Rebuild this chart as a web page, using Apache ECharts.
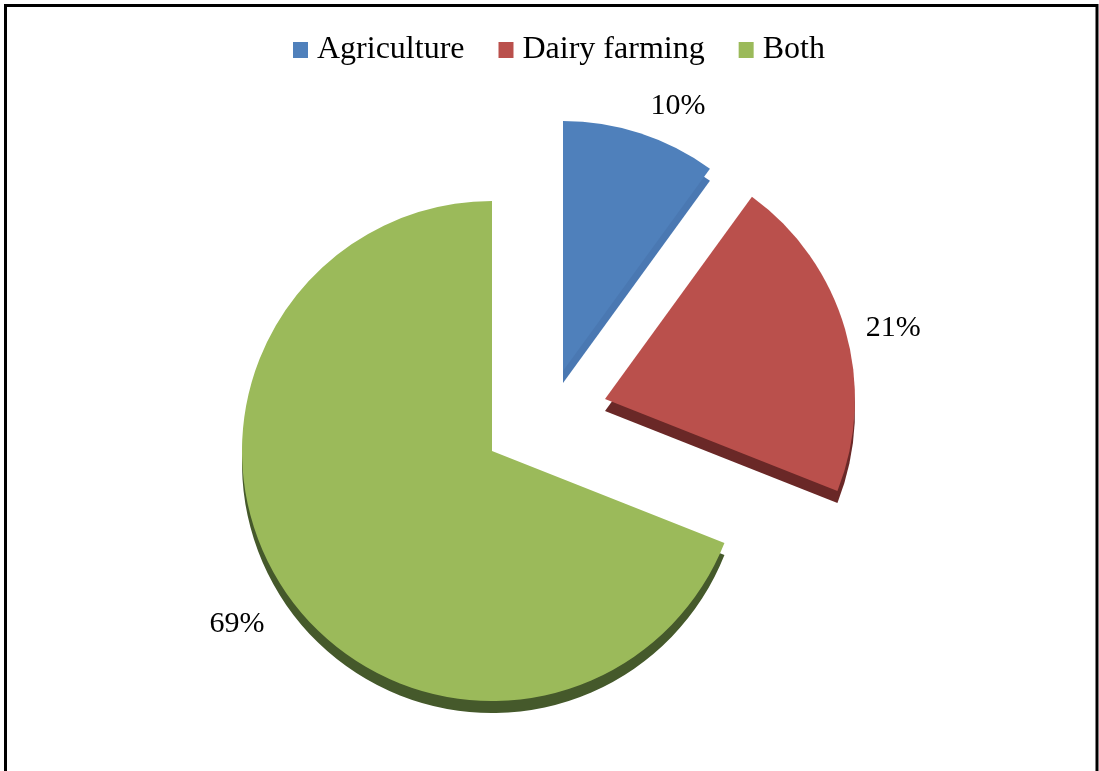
<!DOCTYPE html>
<html>
<head>
<meta charset="utf-8">
<title>Occupation share</title>
<script src="https://cdn.jsdelivr.net/npm/echarts@6/dist/echarts.min.js"></script>
<style>
  html, body { margin: 0; padding: 0; background: #ffffff; }
  #chart { width: 1099px; height: 771px; }
</style>
</head>
<body>
<div id="chart"></div>
<script>
// Occupation categories and their shares (%)
const categories = ['Agriculture', 'Dairy farming', 'Both'];
const values = [10, 21, 69];

// Face and side colours for each slice
const faceColors = ['#4F80BB', '#BA504C', '#9BBA5A'];
const sideColors = ['#4A78B2', '#6A2827', '#45592B'];

// Each slice is drawn as its own pie (others transparent) so it can be pulled out
const sliceCenters = [[563, 371], [605, 399], [492, 451]];
const radius = 250;
const depth = 12;

const labelSetup = [
  { len: 33, len2: 0, dx: 0, dy: 4 },
  { len: 11, len2: 12, dx: -2, dy: 2 },
  { len: 30, len2: 0, dx: 4, dy: 16 }
];

const font = '"Liberation Serif", "Times New Roman", serif';

function sliceData(idx, colorArr, withLabel) {
  return categories.map((name, i) => ({
    name: name,
    value: values[i],
    itemStyle: { color: i === idx ? colorArr[i] : 'rgba(0,0,0,0)' },
    label: { show: withLabel && i === idx },
    labelLine: { show: false }
  }));
}

const series = [];

// carrier series that gives the legend its colours (draws nothing)
series.push({
  type: 'pie',
  radius: [0, 0],
  center: [549, 400],
  silent: true,
  label: { show: false },
  labelLine: { show: false },
  data: categories.map((name, i) => ({ name: name, value: values[i], itemStyle: { color: faceColors[i] } }))
});

// side walls (depth) under each slice
categories.forEach((name, idx) => {
  series.push({
    type: 'pie',
    startAngle: 90,
    clockwise: true,
    radius: [0, radius],
    center: [sliceCenters[idx][0], sliceCenters[idx][1] + depth],
    silent: true,
    avoidLabelOverlap: false,
    label: { show: false },
    labelLine: { show: false },
    emphasis: { disabled: true },
    data: sliceData(idx, sideColors, false)
  });
});

// top faces with percentage labels
categories.forEach((name, idx) => {
  const ls = labelSetup[idx];
  series.push({
    type: 'pie',
    startAngle: 90,
    clockwise: true,
    radius: [0, radius],
    center: sliceCenters[idx],
    silent: true,
    avoidLabelOverlap: false,
    emphasis: { disabled: true },
    label: {
      position: 'outside',
      formatter: p => p.value + '%',
      fontFamily: font,
      fontSize: 30,
      color: '#000000',
      distanceToLabelLine: 0
    },
    labelLine: { show: false, length: ls.len, length2: ls.len2 },
    labelLayout: { dx: ls.dx, dy: ls.dy },
    data: sliceData(idx, faceColors, true)
  });
});

const chart = echarts.init(document.getElementById('chart'), null, { renderer: 'canvas' });
chart.setOption({
  animation: false,
  backgroundColor: '#ffffff',
  legend: {
    data: categories,
    left: 288,
    top: 29,
    itemWidth: 15,
    itemHeight: 16,
    itemGap: 34,
    icon: 'rect',
    selectedMode: false,
    textStyle: {
      fontFamily: font,
      fontSize: 32,
      color: '#000000',
      padding: [0, 0, 0, 4]
    }
  },
  graphic: [{
    type: 'rect',
    shape: { x: 5.5, y: 5.5, width: 1091.5, height: 800 },
    style: { fill: 'none', stroke: '#000000', lineWidth: 3 },
    silent: true,
    z: 100
  }],
  series: series
});
</script>
</body>
</html>
